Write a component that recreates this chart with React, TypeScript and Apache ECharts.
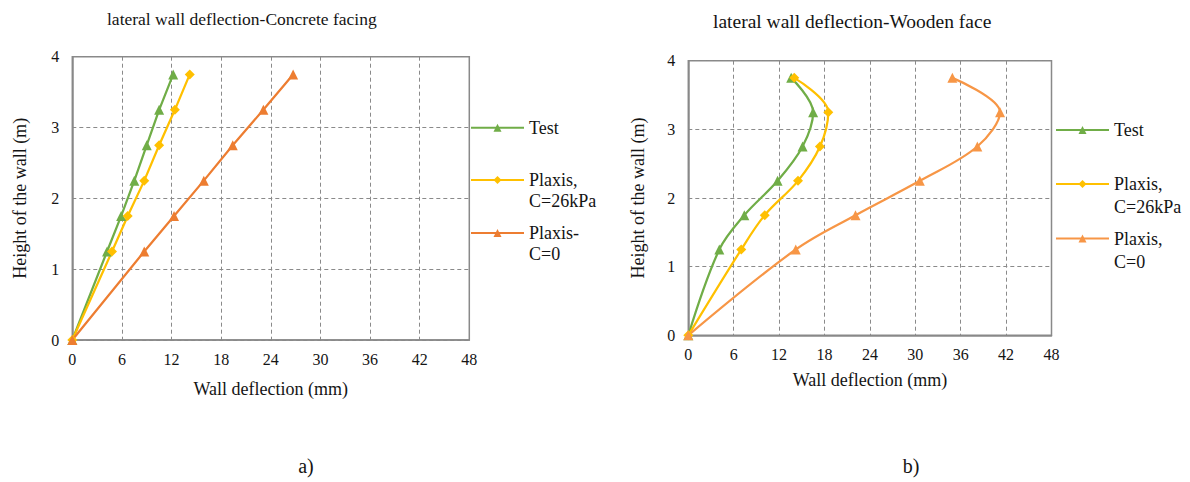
import React, { useEffect, useRef } from "react";
import * as echarts from "echarts";

const heights = [0, 1.25, 1.75, 2.25, 2.75, 3.25, 3.75];
const xTicks = [0, 6, 12, 18, 24, 30, 36, 42, 48];
const yTicks = [0, 1, 2, 3, 4];

const concreteTest = [0, 4.2, 5.9, 7.5, 9.0, 10.5, 12.2];
const concretePlaxis26 = [0, 4.8, 6.7, 8.7, 10.5, 12.4, 14.2];
const concretePlaxis0 = [0, 8.7, 12.3, 15.9, 19.4, 23.1, 26.7];

const woodTest = [0, 4.1, 7.4, 11.8, 15.1, 16.5, 13.6];
const woodPlaxis26 = [0, 7.0, 10.1, 14.5, 17.4, 18.5, 14.0];
const woodPlaxis0 = [0, 14.2, 22.1, 30.6, 38.2, 41.2, 34.9];

const titles = ["lateral wall deflection-Concrete facing", "lateral wall deflection-Wooden face"];
const xName = "Wall deflection (mm)";
const yName = "Height of the wall (m)";
const namesLeft = ["Test", "Plaxis,\nC=26kPa", "Plaxis-\nC=0"];
const namesRight = ["Test ", "Plaxis,\nC=26kPa ", "Plaxis,\nC=0 "];
const captions = ["a)", "b)"];

const FONT = "'Liberation Serif', 'Times New Roman', 'DejaVu Serif', serif";
const TXT = "#141414";
const GREEN = "#70AD47";
const YELLOW = "#FFC000";
const ORANGE_L = "#ED7D31";
const ORANGE_R = "#F79646";
const AXIS = "#898989";
const GRIDC = "#8a8a8a";

const pairs = (xs: number[]) => xs.map((x, i) => [x, heights[i]]);

function xAxis(gridIndex: number, nameGap: number) {
  return {
    type: "value",
    gridIndex,
    min: xTicks[0],
    max: xTicks[xTicks.length - 1],
    interval: 6,
    name: xName,
    nameLocation: "middle",
    nameGap,
    nameTextStyle: { fontFamily: FONT, fontSize: 18, color: TXT },
    axisLine: { show: true, onZero: false, lineStyle: { color: AXIS, width: 1.5 } },
    axisTick: { show: false },
    axisLabel: { fontFamily: FONT, fontSize: 16, color: TXT, margin: 11 },
    splitLine: { show: true, lineStyle: { color: GRIDC, type: [4, 3], width: 1 } },
  };
}

function yAxis(gridIndex: number, nameGap: number) {
  return {
    type: "value",
    gridIndex,
    min: yTicks[0],
    max: yTicks[yTicks.length - 1],
    interval: 1,
    name: yName,
    nameLocation: "middle",
    nameGap,
    nameRotate: 90,
    nameTextStyle: { fontFamily: FONT, fontSize: 18, color: TXT },
    axisLine: { show: true, onZero: false, lineStyle: { color: AXIS, width: 1.5 } },
    axisTick: { show: false },
    axisLabel: { fontFamily: FONT, fontSize: 16, color: TXT, margin: 13 },
    splitLine: { show: true, lineStyle: { color: GRIDC, type: [4, 3], width: 1 } },
  };
}

function series(name: string, data: number[], color: string, symbol: string, idx: number, smooth: boolean) {
  return {
    type: "line",
    name,
    xAxisIndex: idx,
    yAxisIndex: idx,
    data: pairs(data),
    smooth: smooth ? 0.35 : false,
    symbol,
    symbolSize: 10,
    showSymbol: true,
    itemStyle: { color },
    lineStyle: { color, width: 2.25 },
    z: 3,
  };
}

// icon centre = `iconY`; multi-line names get a leading blank line so the
// first text line sits level with the icon, as in the reference.
function legend(name: string, left: number, iconY: number, multi: boolean, lh: number) {
  const nLines = multi ? 3 : 1;
  return {
    data: [name],
    left,
    top: iconY - (nLines * lh) / 2,
    orient: "vertical",
    padding: 0,
    itemWidth: 53,
    itemHeight: 10,
    itemGap: 0,
    selectedMode: false,
    formatter: multi ? (n: string) => "\n" + n.trim() : (n: string) => n.trim(),
    textStyle: {
      fontFamily: FONT,
      fontSize: 18,
      color: TXT,
      lineHeight: lh,
    },
  };
}

export default function App() {
  const ref = useRef<HTMLDivElement>(null);
  useEffect(() => {
    if (!ref.current) return;
    const chart = echarts.init(ref.current, null, { renderer: "svg" });
    chart.setOption({
      animation: false,
      backgroundColor: "#ffffff",
      textStyle: { fontFamily: FONT },
      title: [
        { text: titles[0], left: 107, top: 10, padding: 0, textStyle: { fontFamily: FONT, fontSize: 17.5, fontWeight: "normal", color: TXT } },
        { text: titles[1], left: 713, top: 11, padding: 0, textStyle: { fontFamily: FONT, fontSize: 19.5, fontWeight: "normal", color: TXT } },
      ],
      grid: [
        { left: 72.3, right: 1190 - 469.3, top: 56.7, bottom: 482 - 340, show: true, borderColor: AXIS, borderWidth: 1.5, backgroundColor: "transparent" },
        { left: 688.3, right: 1190 - 1051.5, top: 60.7, bottom: 482 - 335.3, show: true, borderColor: AXIS, borderWidth: 1.5, backgroundColor: "transparent" },
      ],
      xAxis: [xAxis(0, 40), xAxis(1, 36)],
      yAxis: [yAxis(0, 43), yAxis(1, 41)],
      legend: [
        legend(namesLeft[0], 470, 127.7, false, 21),
        legend(namesLeft[1], 470, 180, true, 21),
        legend(namesLeft[2], 470, 233, true, 21),
        legend(namesRight[0], 1055, 130, false, 21),
        legend(namesRight[1], 1055, 184, true, 23),
        legend(namesRight[2], 1055, 238.5, true, 23),
      ],
      series: [
        series(namesLeft[0], concreteTest, GREEN, "triangle", 0, false),
        series(namesLeft[1], concretePlaxis26, YELLOW, "diamond", 0, false),
        series(namesLeft[2], concretePlaxis0, ORANGE_L, "triangle", 0, false),
        series(namesRight[0], woodTest, GREEN, "triangle", 1, true),
        series(namesRight[1], woodPlaxis26, YELLOW, "diamond", 1, true),
        series(namesRight[2], woodPlaxis0, ORANGE_R, "triangle", 1, true),
      ],
      graphic: [
        { type: "text", x: 306, y: 466, style: { text: captions[0], fontFamily: FONT, fontSize: 20, fill: TXT, align: "center", verticalAlign: "middle" } },
        { type: "text", x: 911, y: 466, style: { text: captions[1], fontFamily: FONT, fontSize: 20, fill: TXT, align: "center", verticalAlign: "middle" } },
      ],
    });
    return () => chart.dispose();
  }, []);
  return <div ref={ref} style={{ position: "fixed", left: 0, top: 0, width: 1190, height: 482 }} />;
}
